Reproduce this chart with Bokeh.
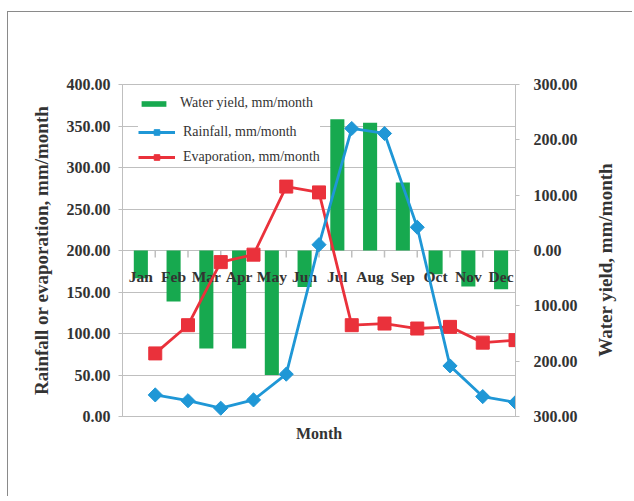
from bokeh.plotting import figure
from bokeh.models import (Range1d, LinearAxis, FixedTicker, NumeralTickFormatter,
                          CustomJSTickFormatter, Legend, LegendItem, ColumnDataSource)
from bokeh.core.properties import value
from bokeh.embed import file_html
from bokeh.resources import INLINE
import math

# ---------------- data ----------------
months = ["Jan", "Feb", "Mar", "Apr", "May", "Jun", "Jul", "Aug", "Sep", "Oct", "Nov", "Dec"]
water_yield = [-50, -92, -177, -177, -225, -66, 237, 231, 123, -43, -65, -70]
rainfall = [26, 19, 10, 20, 51, 207, 347, 341, 228, 61, 24, 17]
evaporation = [76, 110, 186, 195, 277, 270, 110, 112, 106, 108, 89, 92]
left_ticks = [0, 50, 100, 150, 200, 250, 300, 350, 400]
right_ticks = [-300, -200, -100, 0, 100, 200, 300]
left_title = "Rainfall or evaporation, mm/month"
right_title = "Water yield, mm/month"
x_title = "Month"

# ---------------- style ----------------
GREEN = "#17A94F"
BLUE = "#1F97D6"
RED = "#EA313B"
GRAY = "#BFBFBF"
TEXT = "#333333"
FONT = "Liberation Serif"

FW, FH = 393, 332
n = len(months)
idx = list(range(n))
bar_x = [i + 0.56 for i in idx]
line_x = [i + 1 for i in idx]
cat_ticks = idx[1:]
tick_len = 7 * (right_ticks[-1] - right_ticks[0]) / FH
RIGHT_TITLE_START = -192  # where the right title starts (right-axis units)

p = figure(frame_width=FW, frame_height=FH,
           x_range=Range1d(0, n), y_range=Range1d(left_ticks[0], left_ticks[-1]),
           output_backend="svg", toolbar_location=None,
           min_border_left=114, min_border_right=117, min_border_top=72, min_border_bottom=80,
           background_fill_color="white", border_fill_color="white")
p.margin = (11, 0, 0, 7)
p.extra_y_ranges = {"yield": Range1d(right_ticks[0], right_ticks[-1])}
p.outline_line_color = GRAY
p.outline_line_width = 1
p.styles = {"border-top": "1px solid #8a8a8a", "border-left": "1px solid #8a8a8a"}


def bare(axis):
    axis.major_tick_out = 0
    axis.major_tick_in = 0
    axis.minor_tick_out = 0
    axis.minor_tick_in = 0


def title_style(axis, size):
    axis.axis_label_text_font = FONT
    axis.axis_label_text_font_style = "bold"
    axis.axis_label_text_font_size = size
    axis.axis_label_text_color = TEXT


def tick_style(axis):
    axis.minor_tick_out = 0
    axis.minor_tick_in = 0
    axis.major_tick_out = 4
    axis.major_tick_in = 0
    axis.axis_line_color = GRAY
    axis.major_tick_line_color = GRAY
    axis.major_label_text_font = FONT
    axis.major_label_text_font_style = "bold"
    axis.major_label_text_font_size = "16px"
    axis.major_label_text_color = TEXT


# left axis
ya = p.yaxis[0]
ya.ticker = FixedTicker(ticks=left_ticks)
ya.formatter = NumeralTickFormatter(format="0.00")
tick_style(ya)
ya.major_label_standoff = 8
ya.axis_label = left_title
ya.axis_label_standoff = 12
title_style(ya, "19px")

p.ygrid[0].ticker = FixedTicker(ticks=left_ticks)
p.ygrid[0].grid_line_color = GRAY
p.xgrid[0].visible = False

# bottom axis (title only)
xa = p.xaxis[0]
xa.ticker = FixedTicker(ticks=[])
bare(xa)
xa.axis_line_color = GRAY
xa.major_label_standoff = 0
xa.axis_label = x_title
xa.axis_label_standoff = 8
title_style(xa, "16px")

# right axis (ticks)
ra = LinearAxis(y_range_name="yield", ticker=FixedTicker(ticks=right_ticks),
                formatter=CustomJSTickFormatter(code="return Math.abs(tick).toFixed(2);"))
tick_style(ra)
ra.major_label_standoff = 14
p.add_layout(ra, "right")

# right axis title: a one-tick axis whose label reads bottom to top
ra2 = LinearAxis(y_range_name="yield", ticker=FixedTicker(ticks=[RIGHT_TITLE_START]),
                 formatter=CustomJSTickFormatter(args=dict(t=right_title), code="return t;"))
bare(ra2)
ra2.axis_line_color = None
ra2.major_label_orientation = math.pi / 2
ra2.major_label_standoff = 25
ra2.major_label_text_font = FONT
ra2.major_label_text_font_style = "bold"
ra2.major_label_text_font_size = "19px"
ra2.major_label_text_color = TEXT
p.add_layout(ra2, "right")

# bars
bsrc = ColumnDataSource(dict(x=bar_x, top=water_yield))
bars = p.vbar(x="x", top="top", bottom=0, width=0.43, source=bsrc,
              fill_color=GREEN, line_color=None, y_range_name="yield")

# category axis ticks and labels at the zero line
p.segment(x0=cat_ticks, y0=[0] * len(cat_ticks), x1=cat_ticks, y1=[-tick_len] * len(cat_ticks),
          line_color=GRAY, line_width=1.5, y_range_name="yield")
p.text(x=bar_x, y=[0] * n, text=months, y_range_name="yield",
       text_align="center", text_baseline="middle", y_offset=26,
       text_font=value(FONT), text_font_style="bold", text_font_size="15.5px", text_color=TEXT)

# lines
esrc = ColumnDataSource(dict(x=line_x, y=evaporation))
rsrc = ColumnDataSource(dict(x=line_x, y=rainfall))
e_line = p.line("x", "y", source=esrc, line_color=RED, line_width=2.8)
e_mark = p.scatter("x", "y", source=esrc, marker="square", size=13, fill_color=RED, line_color=RED)
r_line = p.line("x", "y", source=rsrc, line_color=BLUE, line_width=2.8)
r_mark = p.scatter("x", "y", source=rsrc, marker="square", angle=math.pi / 4, size=10,
                   fill_color=BLUE, line_color=BLUE)

# legends
common = dict(background_fill_color="white", background_fill_alpha=1.0, border_line_color=None,
              label_text_font=FONT, label_text_font_size="14px", label_text_color=TEXT,
              margin=0)
leg1 = Legend(items=[LegendItem(label="Water yield, mm/month", renderers=[bars])],
              location=(16, 305), padding=6, glyph_width=31, glyph_height=7, label_height=14,
              label_standoff=11, spacing=0, **common)
leg2 = Legend(items=[LegendItem(label="Rainfall, mm/month", renderers=[r_line, r_mark]),
                     LegendItem(label="Evaporation, mm/month", renderers=[e_line, e_mark])],
              location=(16, 251), padding=1, glyph_width=37, glyph_height=14, label_height=14,
              label_standoff=8, spacing=9, **common)
p.add_layout(leg1)
p.add_layout(leg2)

open("out.html", "w").write(file_html(p, INLINE))
